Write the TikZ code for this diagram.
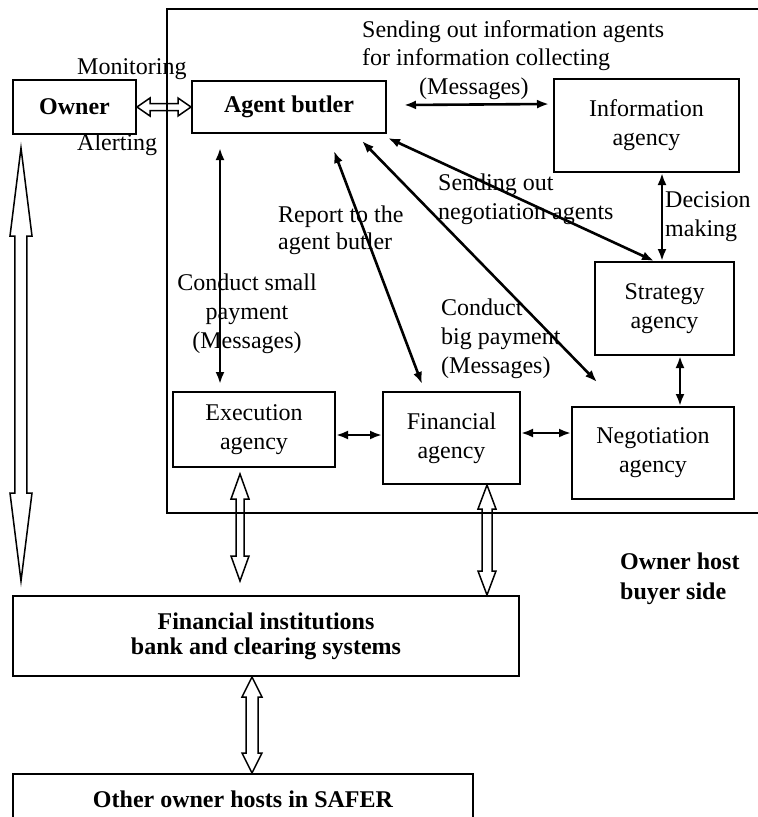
\documentclass[tikz,border=0pt]{standalone}
\usepackage{fontspec}
\setmainfont{Liberation Serif}
\usetikzlibrary{arrows.meta,calc}
\tikzset{
  box/.style={draw, line width=2bp, inner sep=0pt, align=center},
  lbl/.style={inner sep=0pt, align=left, anchor=base west},
  biarrow/.style={line width=2.6bp, {Latex[length=12bp,width=9bp]}-{Latex[length=12bp,width=9bp]}},
  hollow/.style n args={3}{line width=1.5bp, to path={
    ($(\tikztostart)$)
    -- ($(\tikztostart)!#1!(\tikztotarget)!#2!90:(\tikztotarget)$)
    -- ($(\tikztostart)!#1!(\tikztotarget)!#3!90:(\tikztotarget)$)
    -- ($(\tikztotarget)!#1!(\tikztostart)!#3!-90:(\tikztostart)$)
    -- ($(\tikztotarget)!#1!(\tikztostart)!#2!-90:(\tikztostart)$)
    -- ($(\tikztotarget)$)
    -- ($(\tikztotarget)!#1!(\tikztostart)!#2!90:(\tikztostart)$)
    -- ($(\tikztotarget)!#1!(\tikztostart)!#3!90:(\tikztostart)$)
    -- ($(\tikztostart)!#1!(\tikztotarget)!#3!-90:(\tikztotarget)$)
    -- ($(\tikztostart)!#1!(\tikztotarget)!#2!-90:(\tikztotarget)$)
    -- cycle}}
}
\begin{document}
\begin{tikzpicture}[x=1bp,y=-1bp,font=\fontsize{24bp}{29bp}\selectfont]
\useasboundingbox (0,0) rectangle (758,817);
\clip (0,0) rectangle (758,817);

% outer host box
\node[draw, line width=2.4bp, inner sep=0pt, minimum width=610bp, minimum height=504bp, anchor=north west] (host) at (166,8) {};

% boxes
\node[box, minimum width=123bp, minimum height=54bp] (own) at (74.5,107) {\textbf{Owner}};
\node[box, minimum width=194bp, minimum height=52bp] (ab) at (289,107) {\textbf{Agent butler}};
\node[box, minimum width=185bp, minimum height=93bp] (info) at (646.5,125.5) {Information\\agency};
\node[box, minimum width=139bp, minimum height=93bp] (strat) at (664.5,308.5) {Strategy\\agency};
\node[box, minimum width=162bp, minimum height=92bp] (neg) at (653,453) {Negotiation\\agency};
\node[box, minimum width=162bp, minimum height=75bp] (exe) at (254,429.5) {Execution\\agency};
\node[box, minimum width=137bp, minimum height=92bp] (fin) at (451.5,438) {Financial\\agency};
\node[box, minimum width=506bp, minimum height=80bp, font=\fontsize{24bp}{25bp}\selectfont\bfseries] (finst) at (266,636) {Financial institutions\\bank and clearing systems};
\node[box, minimum width=460bp, minimum height=50bp, font=\fontsize{24bp}{29bp}\selectfont\bfseries] (other) at (243,799) {Other owner hosts in SAFER};

% helper coordinates
\coordinate (xa) at (220,0);
\coordinate (xb) at (662,0);
\coordinate (xc) at (680,0);
\coordinate (xd) at (487,0);
\coordinate (xe) at (252,0);
\coordinate (ya) at (0,435);
\coordinate (yb) at (0,433);

% thin double-headed arrows
\draw[biarrow] ($(ab.east)+(17,-2)$) -- ($(info.north west)+(-4,26)$);
\draw[biarrow, shorten <=14bp, shorten >=7bp] (ab.south -| xa) -- (exe.north -| xa);
\draw[biarrow] ($(ab.south west)+(143,17)$) -- ($(fin.north west)+(40,-7)$);
\draw[biarrow] ($(ab.south west)+(171,7)$) -- ($(neg.north west)+(26,-24)$);
\draw[biarrow] ($(ab.south east)+(1,4)$) -- ($(strat.north west)+(60,0)$);
\draw[biarrow] (info.south -| xb) -- (strat.north -| xb);
\draw[biarrow] (strat.south -| xc) -- (neg.north -| xc);
\draw[biarrow] (exe.east |- ya) -- (fin.west |- ya);
\draw[biarrow] (fin.east |- yb) -- (neg.west |- yb);

% hollow double arrows
\coordinate (h2a) at ($(own.south west)+(9,13)$);
\coordinate (h2b) at ($(finst.north west)+(9,-14)$);
\coordinate (h3a) at ($(exe.south west)+(68,6)$);
\coordinate (h3b) at ($(finst.north west)+(228,-14)$);
\draw[hollow={13bp}{9bp}{3.5bp}] (own.east) to (ab.west);
\draw[hollow={88bp}{11bp}{6bp}] (h2a) to (h2b);
\draw[hollow={25bp}{9bp}{4bp}] (h3a) to (h3b);
\draw[hollow={24bp}{9bp}{5bp}] (fin.south -| xd) to (finst.north -| xd);
\draw[hollow={20bp}{10bp}{6bp}] (finst.south -| xe) to (other.north -| xe);

% labels (base = baseline of the last line)
\node[lbl] (lmon) at (77,75) {Monitoring};
\node[lbl] (lale) at (77,150) {Alerting};
\node[lbl, font=\fontsize{24bp}{28bp}\selectfont] (lsend) at (362,94) {Sending out information agents\\for information collecting\\\hspace*{57bp}(Messages)};
\node[lbl] (lneg) at (438,219) {Sending out\\negotiation agents};
\node[lbl] (ldec) at (665,236) {Decision\\making};
\node[lbl, font=\fontsize{24bp}{27bp}\selectfont] (lrep) at (278,249) {Report to the\\agent butler};
\node[inner sep=0pt, align=center, anchor=base] (lsmall) at (247,348) {Conduct small\\payment\\(Messages)};
\node[lbl] (lbig) at (441,373) {Conduct\\big payment\\(Messages)};
\node[lbl, font=\fontsize{24bp}{30bp}\selectfont\bfseries] (lhost) at (620,599) {Owner host\\buyer side};
\end{tikzpicture}
\end{document}
